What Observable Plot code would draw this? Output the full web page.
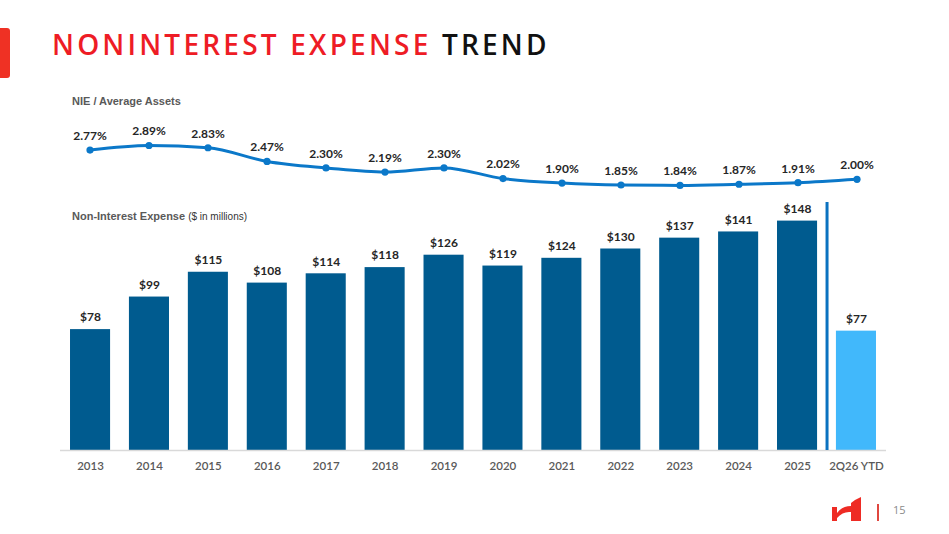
<!DOCTYPE html>
<html>
<head>
<meta charset="utf-8">
<script src="https://cdn.jsdelivr.net/npm/d3@7"></script>
<script src="https://cdn.jsdelivr.net/npm/@observablehq/plot@0.6"></script>
<style>
  html, body { margin: 0; padding: 0; background: #fff; }
  #page { position: relative; width: 949px; height: 534px; overflow: hidden; font-family: "Open Sans", sans-serif; }
  .abs { position: absolute; left: 0; top: 0; }
  #tab { position: absolute; left: -4px; top: 28px; width: 14px; height: 50px; background: #ef3124; border-radius: 3px; }
  #title { position: absolute; left: 52px; top: 25px; font-family: "Open Sans", sans-serif; font-weight: 600; font-size: 28px; letter-spacing: 3.2px; color: #111; white-space: nowrap; }
  #title .red { color: #ee1c25; }
  .sub { position: absolute; left: 72px; font-family: "Liberation Sans", Arial, sans-serif; font-weight: bold; font-size: 11px; color: #595959; white-space: nowrap; }
  .sub small { font-weight: normal; font-size: 10px; color: #333; }
  #pg { position: absolute; left: 893px; top: 502px; font-family: "Open Sans", sans-serif; font-size: 11px; color: #8a8a8a; }
  #vl { position: absolute; left: 877px; top: 504px; width: 1.5px; height: 17px; background: #e0473f; }
</style>
</head>
<body>
<div id="page">
  <div id="tab"></div>
  <div id="title"><span class="red">NONINTEREST EXPENSE</span> TREND</div>
  <div class="sub" style="top:95px">NIE / Average Assets</div>
  <div class="sub" style="top:210px">Non-Interest Expense <small>($ in millions)</small></div>
  <div id="bars" class="abs"></div>
  <div id="line" class="abs"></div>
  <svg class="abs" width="949" height="534" style="pointer-events:none">
    <g fill="#ee2b24">
      <rect x="832" y="507" width="5" height="14"/>
      <path d="M837,513 Q842,506 851,506 L851,512 Q843,511 837,518 Z"/>
      <path d="M851,503 Q856,499 861,497 L861,521 L851,521 Z"/>
    </g>
  </svg>
  <div id="vl"></div>
  <div id="pg">15</div>
</div>
<script>
const categories = ["2013","2014","2015","2016","2017","2018","2019","2020","2021","2022","2023","2024","2025","2Q26 YTD"];
const expense = [78, 99, 115, 108, 114, 118, 126, 119, 124, 130, 137, 141, 148, 77];
const nieRatio = [2.77, 2.89, 2.83, 2.47, 2.30, 2.19, 2.30, 2.02, 1.90, 1.85, 1.84, 1.87, 1.91, 2.00];
const ytdCategory = "2Q26 YTD";

const barData = categories.map((c, i) => ({cat: c, value: expense[i], ytd: c === ytdCategory}));
const lineData = categories.map((c, i) => ({cat: c, value: nieRatio[i]}));

const xScale = {domain: categories, paddingInner: 0.32, paddingOuter: 0.17, round: false};
const labelFont = "Lato, 'Open Sans', sans-serif";

const bars = Plot.plot({
  width: 949, height: 534,
  marginLeft: 60, marginRight: 63, marginTop: 217.5, marginBottom: 84,
  x: {...xScale, label: null},
  y: {domain: [0, 150], axis: null},
  style: {background: "transparent", overflow: "visible"},
  marks: [
    Plot.barY(barData, {x: "cat", y: "value", fill: d => d.ytd ? "#41b8fb" : "#005b8f"}),
    Plot.ruleY([0], {stroke: "#d9d9d9", strokeWidth: 1.5}),
    Plot.ruleX(["2025"], {x: d => d, y1: 0, y2: 160, dx: 29.5, stroke: "#0b72c0", strokeWidth: 3}),
    Plot.text(barData, {x: "cat", y: "value", text: d => "$" + d.value, dy: -12, fontSize: 12, fontWeight: "bold", fill: "#262626", fontFamily: labelFont}),
    Plot.axisX({tickSize: 0, tickPadding: 11, fontSize: 11.5, fontWeight: 600, fill: "#595959", fontFamily: labelFont, label: null})
  ]
});
document.getElementById("bars").appendChild(bars);

const line = Plot.plot({
  width: 949, height: 534,
  marginLeft: 60, marginRight: 63, marginTop: 140.8, marginBottom: 336.2,
  x: {...xScale, axis: null},
  y: {domain: [1.5, 3.0], axis: null},
  style: {background: "transparent", overflow: "visible"},
  marks: [
    Plot.line(lineData, {x: "cat", y: "value", stroke: "#0b78c9", strokeWidth: 3, curve: "monotone-x"}),
    Plot.dot(lineData, {x: "cat", y: "value", r: 3.6, fill: "#0b78c9"}),
    Plot.text(lineData, {x: "cat", y: "value", text: d => d.value.toFixed(2) + "%", dy: -14, fontSize: 12, fontWeight: "bold", fill: "#262626", fontFamily: labelFont})
  ]
});
document.getElementById("line").appendChild(line);
</script>
</body>
</html>
